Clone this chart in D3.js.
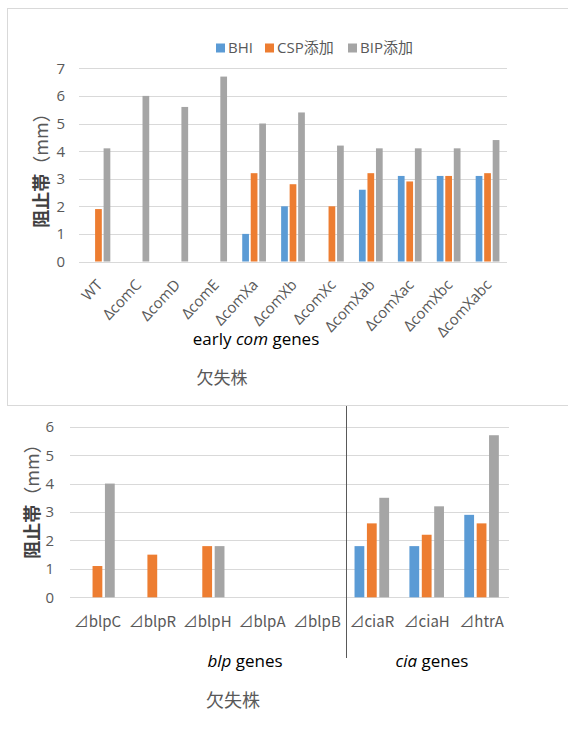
<!DOCTYPE html>
<html><head><meta charset="utf-8">
<script src="https://cdn.jsdelivr.net/npm/d3@7"></script>
<style>
body{margin:0;background:#fff;}
svg{display:block;font-family:"Open Sans","Noto Sans CJK JP",sans-serif;}
</style></head><body>
<svg id="c" width="568" height="739"></svg>
<script>
const seriesNames = ["BHI", "CSP添加", "BIP添加"];
const seriesColors = ["#5B9BD5", "#ED7D31", "#A5A5A5"];

const topCategories = ["WT","\u0394comC","\u0394comD","\u0394comE","\u0394comXa","\u0394comXb","\u0394comXc","\u0394comXab","\u0394comXac","\u0394comXbc","\u0394comXabc"];
const topBHI = [0, 0, 0, 0, 1.0, 2.0, 0, 2.6, 3.1, 3.1, 3.1];
const topCSP = [1.9, 0, 0, 0, 3.2, 2.8, 2.0, 3.2, 2.9, 3.1, 3.2];
const topBIP = [4.1, 6.0, 5.6, 6.7, 5.0, 5.4, 4.2, 4.1, 4.1, 4.1, 4.4];
const topTicks = [0, 1, 2, 3, 4, 5, 6, 7];

const bottomCategories = ["\u22BFblpC","\u22BFblpR","\u22BFblpH","\u22BFblpA","\u22BFblpB","\u22BFciaR","\u22BFciaH","\u22BFhtrA"];
const bottomBHI = [0, 0, 0, 0, 0, 1.8, 1.8, 2.9];
const bottomCSP = [1.1, 1.5, 1.8, 0, 0, 2.6, 2.2, 2.6];
const bottomBIP = [4.0, 0, 1.8, 0, 0, 3.5, 3.2, 5.7];
const bottomTicks = [0, 1, 2, 3, 4, 5, 6];

const svg = d3.select("#c");
const gridColor = "#d9d9d9", textColor = "#595959";

svg.append("rect").attr("x", 7.5).attr("y", 8.5).attr("width", 600).attr("height", 397)
  .attr("fill", "none").attr("stroke", gridColor);

function drawChart(cfg) {
  const g = svg.append("g");
  const y = d3.scaleLinear().domain([0, cfg.max]).range([cfg.y0, cfg.y1]);
  const x0 = d3.scaleBand().domain(cfg.categories).range([cfg.x0, cfg.x1])
    .paddingInner(cfg.pad).paddingOuter(cfg.pad / 2);
  const x1 = d3.scaleBand().domain(seriesNames).range([0, x0.bandwidth()]).paddingInner(0.21);
  g.selectAll("line.grid").data(cfg.ticks).join("line")
    .attr("x1", cfg.x0).attr("x2", cfg.x1)
    .attr("y1", d => Math.round(y(d)) + 0.5).attr("y2", d => Math.round(y(d)) + 0.5)
    .attr("stroke", gridColor).attr("stroke-width", 1);
  g.selectAll("text.tick").data(cfg.ticks).join("text")
    .attr("x", cfg.tickX).attr("y", d => y(d)).attr("dy", "0.36em")
    .attr("text-anchor", "end").attr("fill", textColor).attr("font-size", 15)
    .text(d => d);
  const rows = cfg.categories.map((c, i) => ({c, v: [cfg.s[0][i], cfg.s[1][i], cfg.s[2][i]]}));
  const grp = g.selectAll("g.cat").data(rows).join("g")
    .attr("transform", d => `translate(${x0(d.c)},0)`);
  grp.selectAll("rect").data(d => d.v.map((v, k) => ({v, k}))).join("rect")
    .attr("x", d => x1(seriesNames[d.k])).attr("width", x1.bandwidth())
    .attr("y", d => y(d.v)).attr("height", d => y(0) - y(d.v))
    .attr("fill", d => seriesColors[d.k]);
  const yt = g.append("text").attr("transform", `translate(${cfg.titleX},${cfg.titleY}) rotate(-90)`)
    .attr("text-anchor", "middle").attr("dy", "0.35em").attr("font-size", 18)
    .attr("font-family", "'Noto Sans CJK JP',sans-serif");
  yt.append("tspan").attr("fill", "#404040").attr("font-weight", "bold").text("阻止帯");
  yt.append("tspan").attr("fill", textColor).text("（mm）");
  return {x0, y};
}

const t = drawChart({categories: topCategories, s: [topBHI, topCSP, topBIP], max: 7, ticks: topTicks,
  x0: 79, x1: 507, y0: 261.5, y1: 68.3, pad: 0.39, tickX: 65, titleX: 42, titleY: 166});
svg.append("g").selectAll("text").data(topCategories).join("text")
  .attr("transform", d => `translate(${t.x0(d) + t.x0.bandwidth() / 2 + 1},${282}) rotate(-47)`)
  .attr("text-anchor", "end").attr("dy", "0.35em").attr("font-size", 15).attr("fill", textColor)
  .text(d => d);

const lg = svg.append("g");
const legX = [216, 265, 348];
seriesNames.forEach((n, i) => {
  lg.append("rect").attr("x", legX[i]).attr("y", 43.5).attr("width", 9).attr("height", 9).attr("fill", seriesColors[i]);
  lg.append("text").attr("x", legX[i] + 12).attr("y", 48).attr("dy", "0.36em")
    .attr("font-size", 15).attr("fill", textColor).text(n);
});

const et = svg.append("text").attr("x", 256).attr("y", 345).attr("text-anchor", "middle")
  .attr("font-size", 17).attr("fill", "#000");
et.append("tspan").text("early ");
et.append("tspan").attr("font-style", "italic").text("com");
et.append("tspan").text(" genes");
svg.append("text").attr("x", 222).attr("y", 384).attr("text-anchor", "middle")
  .attr("font-size", 17).attr("fill", textColor).attr("font-family", "'Noto Sans CJK JP',sans-serif").text("欠失株");

const b = drawChart({categories: bottomCategories, s: [bottomBHI, bottomCSP, bottomBIP], max: 6, ticks: bottomTicks,
  x0: 70, x1: 509, y0: 597.3, y1: 426.7, pad: 0.37, tickX: 54, titleX: 33, titleY: 497});
svg.append("g").selectAll("text").data(bottomCategories).join("text")
  .attr("x", d => b.x0(d) + b.x0.bandwidth() / 2).attr("y", 627)
  .attr("text-anchor", "middle").attr("font-size", 15).attr("fill", textColor)
  .attr("font-family", "'Noto Sans CJK JP',sans-serif")
  .text(d => d);

svg.append("line").attr("x1", 346.5).attr("x2", 346.5).attr("y1", 406).attr("y2", 658)
  .attr("stroke", "#595959").attr("stroke-width", 1);

const bl = svg.append("text").attr("x", 245).attr("y", 667).attr("text-anchor", "middle").attr("font-size", 17).attr("fill", "#000");
bl.append("tspan").attr("font-style", "italic").text("blp");
bl.append("tspan").text(" genes");
const ci = svg.append("text").attr("x", 432).attr("y", 667).attr("text-anchor", "middle").attr("font-size", 17).attr("fill", "#000");
ci.append("tspan").attr("font-style", "italic").text("cia");
ci.append("tspan").text(" genes");
svg.append("text").attr("x", 233).attr("y", 707).attr("text-anchor", "middle")
  .attr("font-size", 18).attr("fill", textColor).attr("font-family", "'Noto Sans CJK JP',sans-serif").text("欠失株");
</script></body></html>
